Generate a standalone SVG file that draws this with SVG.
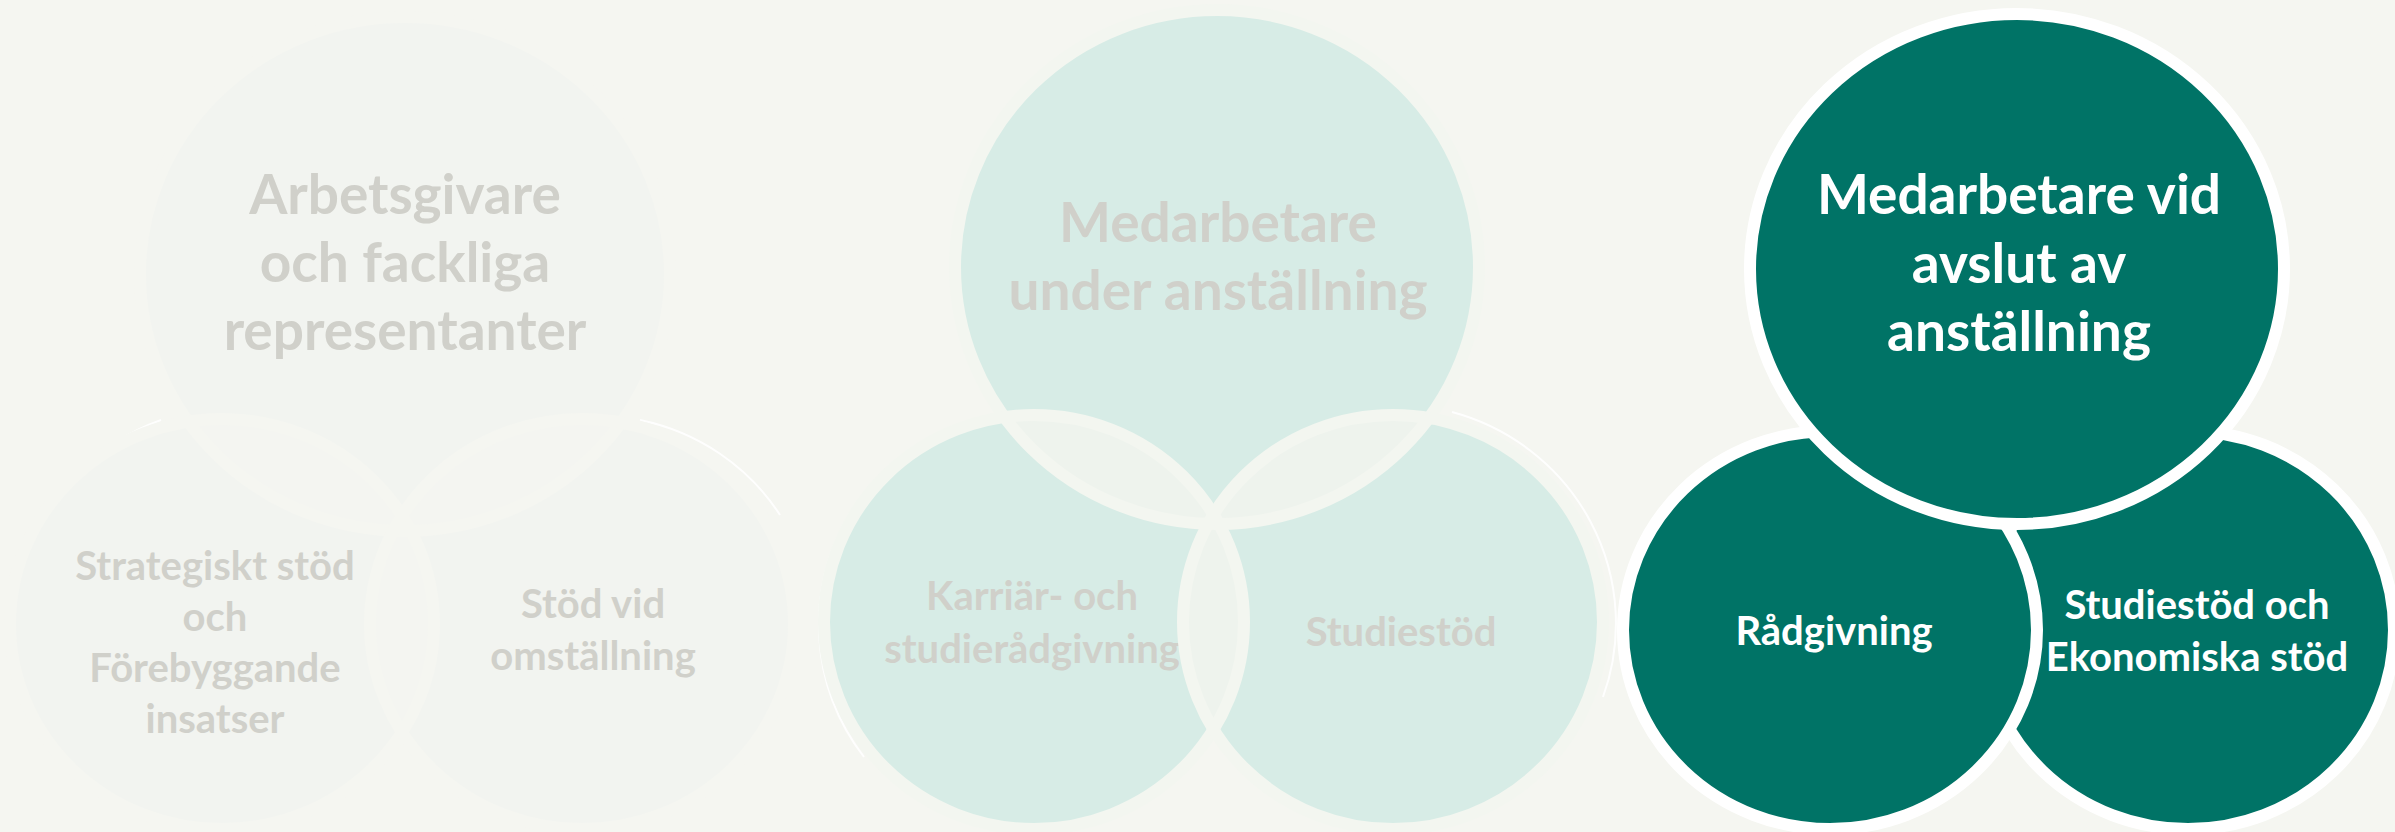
<svg xmlns="http://www.w3.org/2000/svg" width="2395" height="832" viewBox="0 0 2395 832">
<style>
.t{font-family:Lato,"Liberation Sans",sans-serif;font-weight:700;text-anchor:middle}
.big{font-size:55px}
.sm{font-size:40px}
.gray{fill:#d0d0ca}
.wht{fill:#ffffff}
.f1{fill:#f2f4f0}
.f2{fill:#d7ece6}
.f3{fill:#007366}
.s1{fill:none;stroke:#f5f6f1;stroke-width:12}
.s2{fill:none;stroke:#f3f6f0;stroke-width:12}
.s3{stroke:#ffffff;stroke-width:12}
.lens1{fill:#f4f5f1}
.lens2{fill:#eef3ed}
.ring{fill:none;stroke:#ffffff;stroke-width:2;opacity:0.9}
</style>
<defs>
<clipPath id="cTop1"><ellipse cx="405" cy="274" rx="265" ry="257"/></clipPath>
<clipPath id="cStod1"><ellipse cx="582" cy="624" rx="212" ry="205"/></clipPath>
<clipPath id="cTop2"><ellipse cx="1217" cy="267" rx="262" ry="257"/></clipPath>
<clipPath id="cStud2"><ellipse cx="1393" cy="622" rx="210" ry="207"/></clipPath>
</defs>
<rect width="2395" height="832" fill="#f5f6f1"/>

<!-- Group 1 -->
<g id="group-arbetsgivare">
  <path class="ring" d="M 92 777 A 219 212 0 0 1 161 420"/>
  <path class="ring" d="M 640 420 A 219 212 0 0 1 780 515"/>
  <g id="node-arbetsgivare">
    <ellipse class="f1" cx="405" cy="274" rx="265" ry="257"/>
    <text class="t big gray"><tspan x="405" y="214">Arbetsgivare</tspan><tspan x="405" y="282">och fackliga</tspan><tspan x="405" y="350">representanter</tspan></text>
  </g>
  <g id="node-strategiskt">
    <ellipse class="f1" cx="222" cy="624" rx="212" ry="205"/>
    <text class="t sm gray"><tspan x="215" y="580">Strategiskt stöd</tspan><tspan x="215" y="631">och</tspan><tspan x="215" y="682">Förebyggande</tspan><tspan x="215" y="733">insatser</tspan></text>
  </g>
  <g id="node-stod-omstallning">
    <ellipse class="f1" cx="582" cy="624" rx="212" ry="205"/>
    <text class="t sm gray"><tspan x="593" y="618">Stöd vid</tspan><tspan x="593" y="670">omställning</tspan></text>
  </g>
  <g id="overlaps-1">
    <ellipse class="lens1" cx="222" cy="624" rx="212" ry="205" clip-path="url(#cTop1)"/>
    <ellipse class="lens1" cx="582" cy="624" rx="212" ry="205" clip-path="url(#cTop1)"/>
    <ellipse class="lens1" cx="222" cy="624" rx="212" ry="205" clip-path="url(#cStod1)"/>
    <ellipse class="s1" cx="405" cy="274" rx="265" ry="257"/>
    <ellipse class="s1" cx="222" cy="624" rx="212" ry="205"/>
    <ellipse class="s1" cx="582" cy="624" rx="212" ry="205"/>
  </g>
</g>

<!-- Group 2 -->
<g id="group-under-anstallning">
  <path class="ring" d="M 864 757 A 222 219 0 0 1 850 513"/>
  <path class="ring" d="M 1452 412 A 222 219 0 0 1 1603 697"/>
  <g id="node-medarbetare-under">
    <ellipse class="f2" cx="1217" cy="267" rx="262" ry="257"/>
    <text class="t big gray"><tspan x="1218" y="242">Medarbetare</tspan><tspan x="1218" y="310">under anställning</tspan></text>
  </g>
  <g id="node-karriar">
    <ellipse class="f2" cx="1034" cy="622" rx="210" ry="207"/>
    <text class="t sm gray"><tspan x="1032" y="610">Karriär- och</tspan><tspan x="1032" y="663">studierådgivning</tspan></text>
  </g>
  <g id="node-studiestod">
    <ellipse class="f2" cx="1393" cy="622" rx="210" ry="207"/>
    <text class="t sm gray"><tspan x="1401" y="646">Studiestöd</tspan></text>
  </g>
  <g id="overlaps-2">
    <ellipse class="lens2" cx="1034" cy="622" rx="210" ry="207" clip-path="url(#cTop2)"/>
    <ellipse class="lens2" cx="1393" cy="622" rx="210" ry="207" clip-path="url(#cTop2)"/>
    <ellipse class="lens2" cx="1034" cy="622" rx="210" ry="207" clip-path="url(#cStud2)"/>
    <ellipse class="s2" cx="1217" cy="267" rx="262" ry="257"/>
    <ellipse class="s2" cx="1034" cy="622" rx="210" ry="207"/>
    <ellipse class="s2" cx="1393" cy="622" rx="210" ry="207"/>
  </g>
</g>

<!-- Group 3 -->
<g id="group-avslut">
  <g id="node-ekonomiska">
    <ellipse class="f3 s3" cx="2188" cy="630" rx="206" ry="199"/>
    <text class="t sm wht"><tspan x="2197" y="619">Studiestöd och</tspan><tspan x="2197" y="671">Ekonomiska stöd</tspan></text>
  </g>
  <g id="node-radgivning">
    <ellipse class="f3 s3" cx="1830" cy="630" rx="207" ry="199"/>
    <text class="t sm wht"><tspan x="1834" y="645">Rådgivning</tspan></text>
  </g>
  <g id="node-medarbetare-avslut">
    <ellipse class="f3 s3" cx="2017" cy="269" rx="267" ry="255"/>
    <text class="t big wht"><tspan x="2019" y="214">Medarbetare vid</tspan><tspan x="2019" y="283">avslut av</tspan><tspan x="2019" y="351">anställning</tspan></text>
  </g>
</g>
<g id="connectors"></g>
</svg>
